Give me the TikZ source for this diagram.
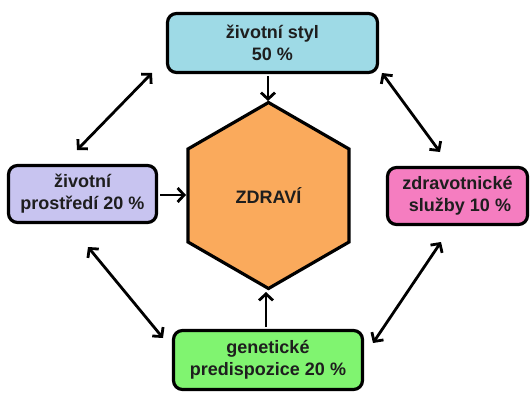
\documentclass[tikz,border=0pt]{standalone}
\usepackage{fontspec}
\setmainfont{Liberation Sans}
\usetikzlibrary{arrows.meta,shapes.geometric}
\definecolor{cblue}{RGB}{158,218,230}
\definecolor{clav}{RGB}{200,196,240}
\definecolor{cpink}{RGB}{245,125,192}
\definecolor{cgreen}{RGB}{128,244,112}
\definecolor{corange}{RGB}{250,170,92}
\definecolor{ctext}{RGB}{30,30,30}
\tikzset{
  factor/.style={draw=black, line width=3.2pt, rounded corners=9pt, align=center,
    inner sep=0pt, text=ctext, font=\bfseries\fontsize{18}{22}\selectfont},
  hexnode/.style={draw=black, line width=3.2pt, fill=corange, regular polygon, regular polygon sides=6,
    shape border rotate=30, minimum size=186pt, inner sep=0pt, outer sep=0pt, text=ctext,
    font=\bfseries\fontsize{18}{22}\selectfont},
  arr/.style={line width=2.8pt, -{Straight Barb[length=6.5pt,width=14pt]}},
  darr/.style={line width=2.8pt, {Straight Barb[length=6.5pt,width=14pt]}-{Straight Barb[length=6.5pt,width=14pt]}}
}
\begin{document}
\begin{tikzpicture}[x=1pt,y=-1pt]
\useasboundingbox (0,0) rectangle (531,394);
\node[hexnode] (hex) at (268.5,195.5) {ZDRAVÍ};
\node[factor, fill=cblue, minimum width=210pt, minimum height=59pt] (top) at (272.5,43) {životní styl\\50 \%};
\node[factor, fill=clav, minimum width=148pt, minimum height=57pt] (left) at (82.5,194) {životní\\prostředí 20 \%};
\node[factor, fill=cpink, minimum width=140pt, minimum height=57pt] (right) at (457.5,196) {zdravotnické\\\ služby 10 \%};
\node[factor, fill=cgreen, minimum width=189pt, minimum height=59pt] (bottom) at (268,360) {genetické\\predispozice 20 \%};
% straight arrows into the hexagon
\coordinate (tA) at (268,76);
\coordinate (tB) at (268,101);
\draw[arr] (tA) -- (tB);
\coordinate (lA) at (160,195);
\coordinate (lB) at (186,195);
\draw[arr] (lA) -- (lB);
\coordinate (bA) at (266,327);
\coordinate (bB) at (266,292);
\draw[arr] (bA) -- (bB);
% double arrows
\coordinate (d1a) at (152,73);
\coordinate (d1b) at (77,150);
\draw[darr] (d1a) -- (d1b);
\coordinate (d2a) at (382,73);
\coordinate (d2b) at (440,152);
\draw[darr] (d2a) -- (d2b);
\coordinate (d3a) at (88,247);
\coordinate (d3b) at (163,338);
\draw[darr] (d3a) -- (d3b);
\coordinate (d4a) at (441,242);
\coordinate (d4b) at (373,343);
\draw[darr] (d4a) -- (d4b);
\end{tikzpicture}
\end{document}
